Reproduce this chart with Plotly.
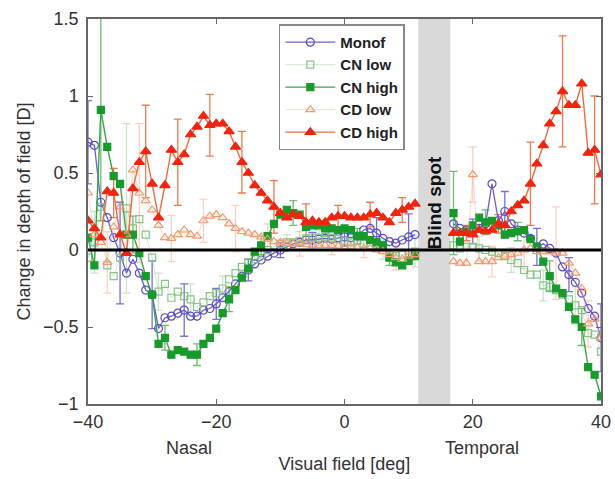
import plotly.graph_objects as go

# ---------------- data ----------------
visual_field_deg = [-40, -39, -38, -37, -36, -35, -34, -33, -32, -31, -30, -29, -28, -27, -26,
                    -25, -24, -23, -22, -21, -20, -19, -18, -17, -16, -15, -14, -13, -12, -11,
                    -10, -9, -8, -7, -6, -5, -4, -3, -2, -1, 0, 1, 2, 3, 4, 5, 6, 7, 8, 9, 10, 11,
                    17, 18, 19, 20, 21, 22, 23, 24, 25, 26, 27, 28, 29, 30, 31, 32, 33, 34, 35,
                    36, 37, 38, 39, 40]

monof = [0.70, 0.68, 0.31, 0.21, 0.08, -0.02, -0.15, -0.06, -0.15, -0.26, -0.29, -0.51, -0.44,
         -0.43, -0.41, -0.39, -0.43, -0.43, -0.39, -0.38, -0.35, -0.31, -0.27, -0.22, -0.17,
         -0.13, -0.09, -0.065, -0.04, -0.02, 0.0, 0.02, 0.04, 0.05, 0.065, 0.065, 0.07, 0.075,
         0.07, 0.08, 0.085, 0.08, 0.09, 0.13, 0.14, 0.11, 0.075, 0.055, 0.045, 0.065, 0.085, 0.10,
         0.17, 0.14, 0.13, 0.12, 0.14, 0.17, 0.43, 0.19, 0.25, 0.17, 0.13, 0.11, 0.075, 0.02,
         0.04, 0.01, -0.02, -0.11, -0.16, -0.21, -0.28, -0.38, -0.43, -0.57]

cn_low = [-0.05, 0.05, 0.28, -0.10, -0.17, -0.05, 0.27, 0.14, 0.20, 0.10, -0.05, -0.27, -0.22,
          -0.31, -0.27, -0.30, -0.32, -0.37, -0.34, -0.30, -0.28, -0.25, -0.19, -0.15, -0.11,
          -0.08, -0.06, -0.03, 0.0, 0.02, 0.04, 0.05, 0.05, 0.06, 0.075, 0.08, 0.08, 0.085,
          0.08, 0.07, 0.06, 0.05, 0.06, 0.04, 0.03, 0.02, 0.0, -0.03, -0.04, -0.03, -0.02, -0.01,
          0.03, 0.01, 0.02, 0.02, 0.01, 0.0, -0.01, -0.02, -0.04, -0.065, -0.085, -0.13, -0.16,
          -0.16, -0.23, -0.24, -0.26, -0.29, -0.32, -0.36, -0.39, -0.54, -0.55, -0.66]

cn_high = [0.08, -0.10, 0.91, 0.67, 0.48, 0.43, 0.10, 0.10, -0.02, -0.17, -0.29, -0.61, -0.57,
           -0.68, -0.65, -0.66, -0.68, -0.68, -0.61, -0.57, -0.51, -0.41, -0.32, -0.26, -0.18,
           -0.12, -0.01, 0.03, 0.09, 0.17, 0.23, 0.26, 0.24, 0.23, 0.15, 0.16, 0.16, 0.14,
           0.14, 0.13, 0.14, 0.13, 0.09, 0.09, 0.065, 0.05, 0.03, -0.05, -0.08, -0.10, -0.07, -0.04,
           0.24, 0.055, 0.12, 0.16, 0.21, 0.18, 0.19, 0.16, 0.10, 0.11, 0.12, 0.13, 0.07, 0.02,
           -0.075, -0.17, -0.25, -0.28, -0.37, -0.45, -0.50, -0.76, -0.81, -0.95]

cd_low = [0.37, 0.10, 0.05, -0.08, 0.15, 0.28, 0.10, 0.52, 0.37, 0.32, 0.26, 0.16, 0.08,
          0.075, 0.10, 0.13, 0.10, 0.09, 0.19, 0.22, 0.23, 0.21, 0.17, 0.14, 0.12, 0.11, 0.10,
          0.085, 0.07, 0.055, 0.05, 0.045, 0.04, 0.04, 0.035, 0.03, 0.03, 0.03, 0.03, 0.025,
          0.02, 0.02, 0.015, 0.01, 0.01, 0.0, -0.01, -0.03, -0.05, -0.06, -0.04, -0.03,
          -0.075, -0.085, -0.085, 0.49, -0.075, -0.075, -0.075, -0.05, -0.04, -0.03, -0.02, 0.0,
          0.01, -0.01, -0.01, -0.01, -0.02, -0.02, -0.085, -0.15, -0.25, -0.48, -0.45, -0.57]

cd_high = [0.19, 0.14, 0.08, 0.38, 0.37, 0.10, -0.02, 0.40, 0.57, 0.64, 0.43, 0.21, 0.42,
           0.65, 0.57, 0.62, 0.75, 0.80, 0.87, 0.81, 0.82, 0.82, 0.77, 0.67, 0.57, 0.50, 0.42,
           0.37, 0.32, 0.28, 0.24, 0.21, 0.23, 0.22, 0.18, 0.19, 0.18, 0.18, 0.21, 0.22, 0.22,
           0.21, 0.21, 0.21, 0.23, 0.24, 0.21, 0.18, 0.24, 0.26, 0.28, 0.30,
           0.11, 0.11, 0.11, 0.10, 0.13, 0.12, 0.13, 0.17, 0.16, 0.25, 0.29, 0.32, 0.43, 0.56,
           0.68, 0.82, 0.90, 1.03, 0.94, 0.94, 1.08, 0.63, 0.65, 0.49]

# error bars (shown only at every fifth position, staggered per series)
monof_err_x = [-40, -35, -30, -25, -20, -15, -10, -5, 0, 5, 10, 20, 25, 30, 35, 40]
monof_err = [0.27, 0.33, 0.22, 0.17, 0.10, 0.07, 0.05, 0.05, 0.06, 0.10, 0.15, 0.08, 0.13, 0.12, 0.11, 0.22]
cn_low_err_x = [-39, -34, -29, -24, -19, -14, -9, -4, 1, 6, 11, 21, 26, 31, 36]
cn_low_err = [0.20, 0.55, 0.12, 0.10, 0.08, 0.06, 0.05, 0.05, 0.05, 0.06, 0.10, 0.08, 0.08, 0.10, 0.12]
cn_high_err_x = [-38, -33, -28, -23, -18, -13, -8, -3, 2, 7, 17, 22, 27, 32, 37]
cn_high_err = [0.72, 0.12, 0.08, 0.07, 0.08, 0.06, 0.08, 0.05, 0.05, 0.05, 0.27, 0.08, 0.06, 0.10, 0.12]
cd_low_err_x = [-37, -32, -27, -22, -17, -12, -7, -2, 3, 8, 20, 23, 28, 33, 38]
cd_low_err = [0.20, 0.45, 0.15, 0.14, 0.15, 0.10, 0.08, 0.06, 0.06, 0.08, 0.18, 0.10, 0.12, 0.30, 0.15]
cd_high_err_x = [-36, -31, -26, -21, -16, -11, -6, -1, 4, 9, 19, 24, 29, 34, 39]
cd_high_err = [0.16, 0.30, 0.28, 0.20, 0.20, 0.17, 0.12, 0.07, 0.08, 0.08, 0.05, 0.06, 0.27, 0.36, 0.35]

blind_spot = [11.5, 16.5]
x_ticks = [-40, -20, 0, 20, 40]
y_ticks = [-1, -0.5, 0, 0.5, 1, 1.5]

FONT = "Liberation Sans, Arial, Helvetica, sans-serif"


def with_gap(xs, ys):
    ox, oy = [], []
    for i, (x, y) in enumerate(zip(xs, ys)):
        if i > 0 and x - xs[i - 1] > 1:
            ox.append(None)
            oy.append(None)
        ox.append(x)
        oy.append(y)
    return ox, oy


series = [
    # name, values, err_x, err, line colour, marker colour, symbol, size, line width, err colour
    ("Monof", monof, monof_err_x, monof_err, "#6a5fd0", "#5a4bc8", "circle-open", 8, 1.3, "#7a6fd8"),
    ("CN low", cn_low, cn_low_err_x, cn_low_err, "rgba(150,205,150,0.45)", "#86c486", "square-open", 7, 1.0, "rgba(150,205,150,0.5)"),
    ("CN high", cn_high, cn_high_err_x, cn_high_err, "#3aa548", "#179a2a", "square", 7, 1.4, "rgba(60,165,75,0.75)"),
    ("CD low", cd_low, cd_low_err_x, cd_low_err, "rgba(250,170,140,0.45)", "#f59a70", "triangle-up-open", 8, 1.0, "rgba(250,170,140,0.55)"),
    ("CD high", cd_high, cd_high_err_x, cd_high_err, "#f26a3c", "#f0250f", "triangle-up", 9, 1.4, "#f07a50"),
]

fig = go.Figure()

# error bars first (behind markers)
for name, vals, ex, ee, lc, mc, sym, sz, lw, ec in series:
    lookup = dict(zip(visual_field_deg, vals))
    fig.add_trace(go.Scatter(
        x=ex, y=[lookup[v] for v in ex], mode="markers",
        marker=dict(size=2, color="rgba(0,0,0,0)"),
        error_y=dict(type="data", array=ee, symmetric=True, color=ec, thickness=1.3, width=4),
        showlegend=False, hoverinfo="skip"))

for name, vals, ex, ee, lc, mc, sym, sz, lw, ec in series:
    gx, gy = with_gap(visual_field_deg, vals)
    fig.add_trace(go.Scatter(
        x=gx, y=gy, name=name, mode="lines+markers", connectgaps=False,
        line=dict(color=lc, width=lw),
        marker=dict(symbol=sym, size=sz, color=mc, line=dict(color=mc, width=1.2)),
    ))

# blind spot
fig.add_shape(type="rect", xref="x", yref="paper", x0=blind_spot[0], x1=blind_spot[1], y0=0, y1=1,
              fillcolor="#d9d9d9", line=dict(width=0), layer="below")
# zero line
fig.add_shape(type="line", xref="paper", yref="y", x0=0, x1=1, y0=0, y1=0,
              line=dict(color="black", width=3), layer="above")

fig.add_annotation(x=14.0, y=0.31, xref="x", yref="y", text="<b>Blind spot</b>",
                   textangle=-90, showarrow=False, font=dict(family=FONT, size=19, color="#111"))
fig.add_annotation(x=-24.3, y=-0.113, xref="x", yref="paper", yanchor="middle", text="Nasal",
                   showarrow=False, font=dict(family=FONT, size=18, color="#333"))
fig.add_annotation(x=21.5, y=-0.113, xref="x", yref="paper", yanchor="middle", text="Temporal",
                   showarrow=False, font=dict(family=FONT, size=18, color="#333"))

axis_common = dict(showline=True, linecolor="#666", linewidth=1.5, mirror="ticks", ticks="inside",
                   ticklen=5, tickcolor="#666", showgrid=False, zeroline=False, automargin=False,
                   tickfont=dict(family=FONT, size=18, color="#333"))

fig.update_xaxes(range=[-40, 40], tickvals=x_ticks, ticklabelstandoff=1,
                 title=dict(text="Visual field [deg]", font=dict(family=FONT, size=18, color="#333"), standoff=26),
                 **axis_common)
fig.update_yaxes(range=[-1, 1.5], tickvals=y_ticks, ticklabelstandoff=4,
                 title=dict(text="Change in depth of field [D]", font=dict(family=FONT, size=18, color="#333"), standoff=8),
                 **axis_common)

fig.update_layout(
    width=615, height=479,
    margin=dict(l=88, r=14, t=19, b=75),
    paper_bgcolor="white", plot_bgcolor="white",
    font=dict(family=FONT, color="#333"),
    legend=dict(x=0.372, y=0.986, xanchor="left", yanchor="top",
                bgcolor="white", bordercolor="#888", borderwidth=1.5,
                font=dict(family=FONT, size=15, color="#222", weight="bold"),
                tracegroupgap=0, itemwidth=50, entrywidth=70, entrywidthmode="pixels"),
)

fig.write_html("out.html")
